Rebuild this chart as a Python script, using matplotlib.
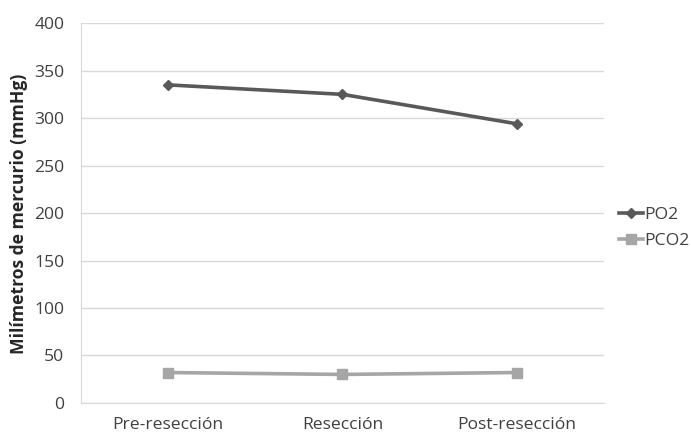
import matplotlib
matplotlib.use("Agg")
import matplotlib.pyplot as plt

categories = ["Pre-resección", "Resección", "Post-resección"]
po2 = [335, 325, 294]
pco2 = [32, 30, 32]
yticks = [0, 50, 100, 150, 200, 250, 300, 350, 400]

plt.rcParams["font.family"] = ["Open Sans", "DejaVu Sans"]
fs = 12.6

fig = plt.figure(figsize=(6.91, 4.37), dpi=100)
ax = fig.add_axes([0.117, 0.078, 0.757, 0.869])

x = range(len(categories))
ax.plot(x, po2, color="#595959", lw=2.6, marker="D", ms=5.5, label="PO2")
ax.plot(x, pco2, color="#A6A6A6", lw=2.6, marker="s", ms=7, label="PCO2")

ax.set_xlim(-0.5, len(categories) - 0.5)
ax.set_ylim(0, 400)
ax.set_yticks(yticks)
ax.set_xticks(list(x))
ax.set_xticklabels(categories)
ax.yaxis.grid(True, color="#D9D9D9", lw=1)
ax.set_axisbelow(True)
for side in ["top", "right"]:
    ax.spines[side].set_visible(False)
ax.spines["left"].set_color("#D9D9D9")
ax.spines["bottom"].set_color("#D9D9D9")
ax.tick_params(axis="both", length=0, labelsize=fs, colors="#404040")
ax.tick_params(axis="x", pad=10)
ax.tick_params(axis="y", pad=12)
ax.set_ylabel("Milímetros de mercurio (mmHg)", fontsize=fs, fontweight="bold", color="#262626")
ax.yaxis.set_label_coords(28 / 691, 0.51, transform=fig.transFigure)

ax.legend(loc="center left", bbox_to_anchor=(0.873, 0.478), bbox_transform=fig.transFigure,
          frameon=False, fontsize=fs, handlelength=1.4, handletextpad=0.05, labelspacing=0.55,
          labelcolor="#404040")

fig.savefig("out.png", dpi=100)
